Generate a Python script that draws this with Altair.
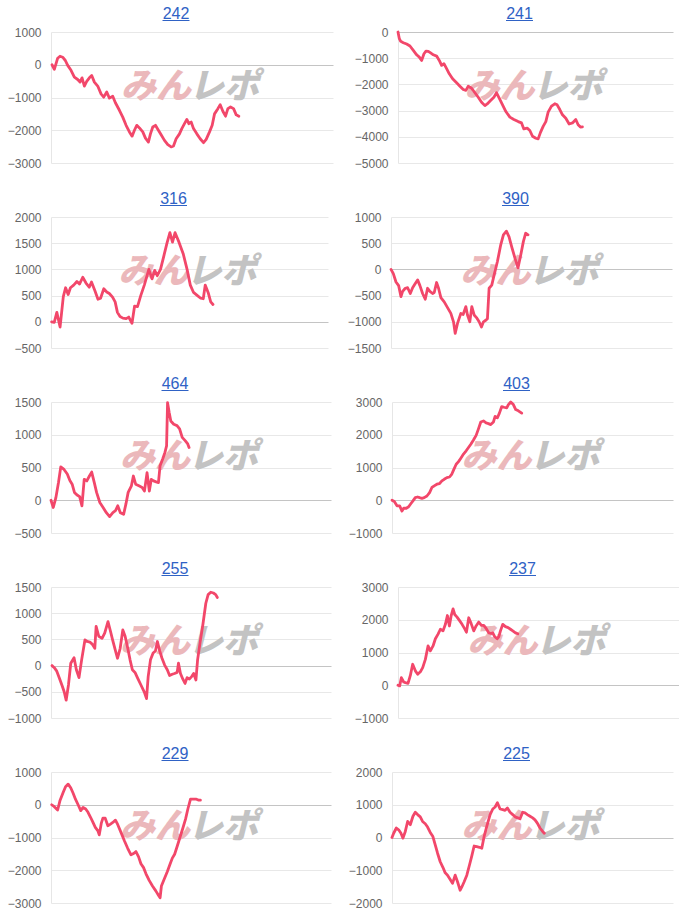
import altair as alt
import pandas as pd

# ---------------- data ----------------
titles = ["242", "241", "316", "390", "464", "403", "255", "237", "229", "225"]
watermark = ["みん", "レポ"]

# x = position along the (unlabelled) play axis, y = running balance
p242_x = [148,155,165,172,180,188,195,205,215,225,232,238,245,252,260,267,275,285,295,303,312,320,330,338,350,360,370,380,388,395,402,410,420,428,437,443,450,458,465,475,485,495,505,512,520,530,537,545,552,558,565,572,582,592,602,610,620,628,635,645,652,660,668,675,683,692,700,708]
p242_y = [0,-140,200,260,230,130,-20,-170,-380,-450,-530,-400,-650,-510,-400,-330,-530,-650,-890,-990,-830,-1020,-960,-1160,-1390,-1600,-1850,-2050,-2180,-2000,-1850,-1930,-2050,-2240,-2360,-2110,-1900,-1850,-1970,-2140,-2310,-2440,-2510,-2480,-2260,-2110,-1950,-1800,-1670,-1800,-1750,-1950,-2110,-2260,-2380,-2280,-2050,-1850,-1500,-1340,-1220,-1420,-1570,-1340,-1290,-1340,-1530,-1570]

p241_x = [174,178,182,190,200,210,220,230,238,245,252,258,265,272,280,290,298,305,312,320,328,338,350,360,370,378,385,395,405,415,425,435,442,452,462,470,478,488,498,510,522,535,545,552,562,570,578,588,595,602,610,618,625,635,645,652,660,668,678,688,698,708,715,722,728]
p241_y = [0,-255,-357,-408,-460,-535,-700,-870,-960,-1085,-830,-730,-740,-800,-870,-920,-1085,-1275,-1210,-1400,-1595,-1785,-1940,-2070,-2195,-2230,-2070,-2145,-2320,-2490,-2680,-2810,-2745,-2615,-2490,-2320,-2525,-2780,-3035,-3250,-3340,-3420,-3470,-3700,-3670,-3760,-3980,-4055,-4080,-3830,-3600,-3420,-3060,-2830,-2740,-2780,-2960,-3160,-3290,-3510,-3470,-3340,-3540,-3630,-3620]

p316_x = [122,130,138,148,158,165,173,180,190,200,208,218,228,238,245,255,265,273,283,292,300,310,318,325,333,342,352,360,370,378,387,397,408,422,432,440,448,458,468,478,487,495,503,515,528,540,550,560,572,582,590,596,605,613,620]
p316_y = [0,-10,180,-100,480,650,520,650,700,770,720,850,740,660,760,600,430,450,630,570,540,470,380,180,100,70,60,90,-30,300,290,500,700,1000,820,980,880,1000,1250,1500,1700,1520,1700,1520,1300,1000,700,560,500,450,440,700,560,380,330]

p390_x = [155,162,170,178,185,190,198,205,213,220,228,235,242,250,258,265,272,280,285,292,298,305,315,325,335,343,348,355,365,372,380,385,392,398,405,412,420,427,433,440,445,450,458,465,475,485,493,502,510,518,528,537,545,553,560,567]
p390_y = [0,-80,-240,-310,-520,-420,-360,-350,-460,-350,-270,-200,-310,-460,-570,-360,-420,-460,-440,-250,-360,-540,-620,-730,-840,-1000,-1220,-1030,-840,-860,-710,-870,-1000,-710,-870,-920,-1000,-1100,-1000,-970,-940,-360,-300,-110,150,470,660,730,620,430,210,30,270,530,690,660]

p464_x = [125,132,140,148,155,165,175,183,190,197,205,213,220,227,235,243,250,258,265,275,285,295,305,315,323,330,338,348,355,362,372,378,385,395,405,412,420,427,433,440,448,455,460,468,475,480,483,488,493,502,512,520,528,537,545,549]
p464_y = [0,-110,40,270,510,470,400,300,245,120,80,55,-85,320,295,370,430,270,120,-35,-110,-190,-250,-190,-160,-85,-190,-215,-60,120,220,370,245,220,195,140,420,140,320,295,280,270,525,630,730,830,1490,1340,1210,1160,1140,1090,960,910,860,805]

p403_x = [155,162,170,178,185,190,198,205,212,218,225,232,238,245,252,260,268,275,282,290,298,305,312,320,328,335,340,348,355,362,370,378,385,392,400,408,415,422,430,438,445,452,460,465,472,478,485,492,500,505,512,520,527,535,545]
p403_y = [0,-40,-170,-170,-330,-245,-245,-200,-100,-20,80,100,80,60,80,130,235,390,440,490,510,590,640,690,710,800,920,1100,1180,1285,1410,1510,1610,1710,1840,1980,2180,2390,2420,2360,2340,2310,2390,2560,2520,2660,2860,2840,2820,2920,3000,2920,2770,2730,2660]

p255_x = [138,145,152,160,168,175,181,188,195,205,212,220,228,238,245,253,260,268,272,280,290,298,308,315,322,330,337,345,353,360,368,375,382,390,398,408,418,425,430,437,445,452,458,465,472,480,488,495,503,510,518,522,528,535,542,548,555,562,568,575,580,588,596,605,612,620,628,635,640]
p255_y = [0,-40,-100,-230,-370,-500,-660,-370,45,150,-80,-230,110,490,460,450,410,330,750,560,520,620,840,670,490,300,140,330,680,560,330,110,-80,-130,-240,-370,-500,-630,-210,110,240,280,460,280,140,10,-80,-190,-165,-150,-130,45,-150,-255,-340,-230,-255,-210,-150,-275,110,460,780,1190,1355,1400,1385,1355,1300]

p237_x = [178,183,188,195,200,208,215,222,230,237,245,252,260,268,275,283,290,298,305,313,320,326,332,337,343,348,355,362,370,378,383,390,397,405,412,420,428,435,443,450,457,462,468,475,480,485,492,500,508,515,522,530,537]
p237_y = [0,-20,230,100,80,60,300,640,440,335,410,540,790,1200,1050,1200,1420,1560,1710,1660,1860,2130,1810,2110,2330,2160,2080,1980,1860,1720,1620,2060,1890,1660,1810,1930,1830,1830,1720,1600,1580,1600,1480,1420,1480,1660,1860,1790,1760,1710,1660,1600,1570]

p229_x = [140,148,158,165,175,182,190,198,205,212,220,228,235,243,250,258,265,272,280,284,290,295,302,310,318,325,333,340,350,360,370,380,388,395,403,410,418,425,435,445,455,463,468,472,480,490,498,505,512,520,528,537,545,552,560,568,578,585,590]
p229_y = [0,-60,-160,120,380,550,630,510,350,170,0,-180,-80,-130,-230,-390,-540,-690,-800,-920,-570,-410,-410,-640,-590,-540,-470,-610,-850,-1100,-1330,-1530,-1490,-1430,-1590,-1800,-1920,-2100,-2310,-2480,-2630,-2760,-2840,-2480,-2280,-2040,-1820,-1630,-1510,-1260,-1000,-710,-440,-130,170,170,170,140,140]

p225_x = [155,160,168,175,182,188,195,202,210,218,225,232,240,247,255,262,270,278,285,292,300,308,315,322,330,337,345,352,360,365,372,380,388,395,402,410,418,425,432,440,450,458,465,472,480,488,495,502,510,518,525,533,540,548,555,562,570,578,585,592,600,608,613]
p225_y = [0,130,290,235,130,-20,185,490,390,650,770,700,630,490,420,320,155,30,-225,-480,-740,-910,-1080,-1150,-1280,-1400,-1150,-1350,-1610,-1510,-1350,-1150,-840,-560,-260,-280,-300,-330,30,340,700,870,930,1060,870,850,830,900,770,700,630,600,570,770,750,700,650,600,540,440,290,185,130]

series_x = [p242_x, p241_x, p316_x, p390_x, p464_x, p403_x, p255_x, p237_x, p229_x, p225_x]
series_y = [p242_y, p241_y, p316_y, p390_y, p464_y, p403_y, p255_y, p237_y, p229_y, p225_y]

# full extent of the play axis for each panel
x_domains = [[145, 990], [174, 1000], [120, 975], [155, 1000], [125, 985],
             [155, 1000], [135, 985], [178, 1020], [138, 985], [155, 1000]]
# y axis ranges and tick values
y_domains = [[-3000, 1000], [-5000, 0], [-500, 2000], [-1500, 1000], [-500, 1500],
             [-1000, 3000], [-1000, 1500], [-1000, 3000], [-3000, 1000], [-2000, 2000]]
y_ticks = [
    [-3000, -2000, -1000, 0, 1000],
    [-5000, -4000, -3000, -2000, -1000, 0],
    [-500, 0, 500, 1000, 1500, 2000],
    [-1500, -1000, -500, 0, 500, 1000],
    [-500, 0, 500, 1000, 1500],
    [-1000, 0, 1000, 2000, 3000],
    [-1000, -500, 0, 500, 1000, 1500],
    [-1000, 0, 1000, 2000, 3000],
    [-3000, -2000, -1000, 0, 1000],
    [-2000, -1000, 0, 1000, 2000],
]

# ---------------- layout / style ----------------
widths = [282, 275, 277, 281, 280, 281, 280, 281, 280, 281]
H = 131
row_spacing = [21, 19, 17, 23, 17]
LINE = "#f2476a"
LINK = "#2f62c5"
FONT = "Liberation Sans"
JP = "Noto Sans CJK JP"


def panel(i):
    w = widths[i]
    df = pd.DataFrame({"x": series_x[i], "y": series_y[i]})
    xsc = alt.Scale(domain=x_domains[i], nice=False, zero=False)
    ysc = alt.Scale(domain=y_domains[i], nice=False, zero=False)

    one = pd.DataFrame({"t": [titles[i]]})
    wm_a = alt.Chart(pd.DataFrame({"t": [watermark[0]]})).mark_text(
        align="right", baseline="middle", font=JP, fontSize=35, fontWeight=900,
        fontStyle="italic", color="#ebb8bb"
    ).encode(x=alt.value(w / 2 - 1), y=alt.value(H * 0.42), text="t:N")
    wm_b = alt.Chart(pd.DataFrame({"t": [watermark[1]]})).mark_text(
        align="left", baseline="middle", font=JP, fontSize=35, fontWeight=900,
        fontStyle="italic", color="#c3c3c3"
    ).encode(x=alt.value(w / 2 - 3), y=alt.value(H * 0.42), text="t:N")

    line = alt.Chart(df).mark_line(
        color=LINE, strokeWidth=2.8, strokeJoin="round", strokeCap="round"
    ).encode(
        x=alt.X("x:Q", scale=xsc, axis=None),
        y=alt.Y("y:Q", scale=ysc, axis=alt.Axis(
            values=y_ticks[i], format="d", title=None, ticks=False,
            labelPadding=10, labelFontSize=12, labelColor="#666666", labelFont=FONT,
            domain=True, domainColor="#e6e6e6", domainWidth=1,
            grid=True, gridWidth=1,
            gridColor={"condition": {"test": "datum.value === 0", "value": "#c4c4c4"},
                       "value": "#e8e8e8"},
        )),
    )

    cx = w / 2 - 16
    title = alt.Chart(one).mark_text(
        align="center", baseline="alphabetic", font=FONT, fontSize=16, color=LINK
    ).encode(x=alt.value(cx), y=alt.value(-13.5), text="t:N")
    underline = alt.Chart(one).mark_rule(color=LINK, strokeWidth=1).encode(
        x=alt.value(cx - 13.5), x2=alt.value(cx + 13.5), y=alt.value(-11.5)
    )

    return alt.layer(wm_a, wm_b, line, title, underline).properties(width=w, height=H)


rows = []
for r in range(5):
    rows.append(alt.hconcat(panel(2 * r), panel(2 * r + 1), spacing=row_spacing[r]))

chart = alt.vconcat(*rows, spacing=21).properties(
    padding={"left": 7, "top": 5, "right": 0, "bottom": 0},
    background="white",
).configure_view(stroke=None)

chart.save("out.html", embed_options={"renderer": "svg", "actions": False})
